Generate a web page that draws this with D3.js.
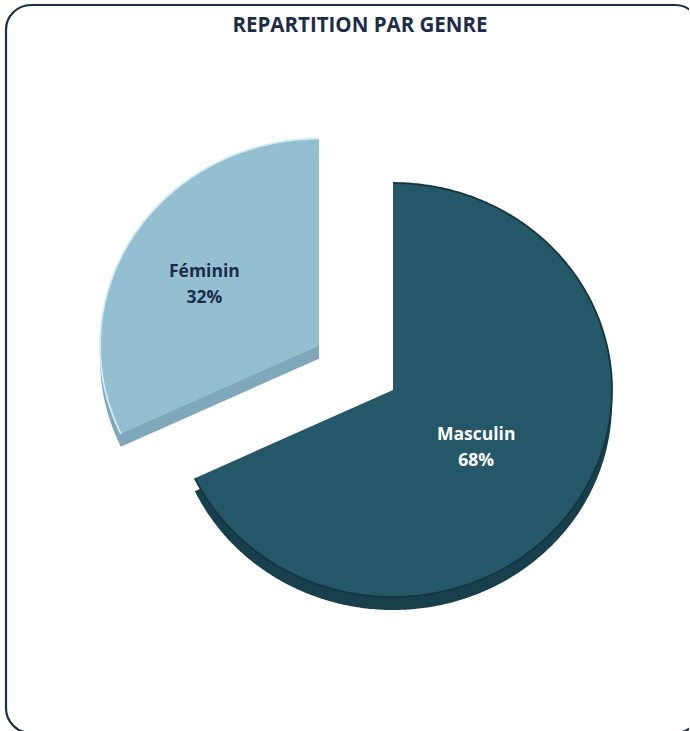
<!DOCTYPE html>
<html>
<head>
<meta charset="utf-8">
<script src="https://cdn.jsdelivr.net/npm/d3@7"></script>
<style>
  body { margin: 0; background: #fff; overflow: hidden; }
  svg { display: block; overflow: hidden; }
  text { font-family: "Open Sans", sans-serif; font-weight: bold; }
</style>
</head>
<body>
<div id="chart"></div>
<script>
// data
var categories = ["Masculin", "Féminin"];
var values = [68, 32];
var valueLabels = ["68%", "32%"];
var title = "REPARTITION PAR GENRE";

// layout
var width = 690, height = 731;
var cx = 393, cy = 390, rx = 219, ry = 207, depth = 13;
var explode = { "Masculin": 0, "Féminin": 0.4 };
var labelAt = { "Masculin": 0.45, "Féminin": 0.62 };
var colors = {
  "Masculin": { top: "#245868", side: "#173f4c", edge: "#143440", text: "#ffffff" },
  "Féminin":  { top: "#93bfd1", side: "#7fa8ba", edge: "#d2edf7", text: "#1c2d4a" }
};

var svg = d3.select("#chart").append("svg")
    .attr("width", width)
    .attr("height", height);

svg.append("clipPath")
    .attr("id", "view")
  .append("rect")
    .attr("width", width - 1)
    .attr("height", height);

// frame (right and bottom sides run past the picture)
svg.append("rect")
    .attr("clip-path", "url(#view)")
    .attr("x", 6).attr("y", 5)
    .attr("width", 694).attr("height", 728)
    .attr("rx", 25)
    .attr("fill", "#fff")
    .attr("stroke", "#1b2d47")
    .attr("stroke-width", 2.2);

svg.append("text")
    .attr("x", 360).attr("y", 32)
    .attr("text-anchor", "middle")
    .attr("font-size", 20.5)
    .attr("fill", "#1c2d4a")
    .text(title);

var data = categories.map(function(c, i) {
  return { name: c, value: values[i], label: valueLabels[i] };
});
var pie = d3.pie().sort(null).value(function(d) { return d.value; });
var arcs = pie(data);

// flattened pie: angle -> screen offset
function proj(a, f) {
  return [rx * f * Math.sin(a), -ry * f * Math.cos(a)];
}

function arcPoints(d) {
  var n = Math.ceil((d.endAngle - d.startAngle) / 0.01);
  var a = d3.scaleLinear().domain([0, n]).range([d.startAngle, d.endAngle]);
  return d3.range(n + 1).map(function(i) { return proj(a(i), 1); });
}

var line = d3.line();

var slices = svg.selectAll(".slice")
    .data(arcs)
  .enter().append("g")
    .attr("class", "slice")
    .attr("transform", function(d) {
      var off = proj((d.startAngle + d.endAngle) / 2, explode[d.data.name]);
      return "translate(" + (cx + off[0]) + "," + (cy + off[1]) + ")";
    });

// side (thickness)
slices.append("path")
    .attr("transform", "translate(0," + depth + ")")
    .attr("d", function(d) { return line([[0, 0]].concat(arcPoints(d))) + "Z"; })
    .attr("fill", function(d) { return colors[d.data.name].side; });

// top face
slices.append("path")
    .attr("d", function(d) { return line([[0, 0]].concat(arcPoints(d))) + "Z"; })
    .attr("fill", function(d) { return colors[d.data.name].top; });

// rim line on the outer arc
slices.append("path")
    .attr("d", function(d) { return line(arcPoints(d)); })
    .attr("fill", "none")
    .attr("stroke", function(d) { return colors[d.data.name].edge; })
    .attr("stroke-width", 1.8);

// labels
var labels = slices.append("text")
    .attr("text-anchor", "middle")
    .attr("font-size", 17.5)
    .attr("fill", function(d) { return colors[d.data.name].text; })
    .attr("transform", function(d) {
      var p = proj((d.startAngle + d.endAngle) / 2, labelAt[d.data.name]);
      return "translate(" + p[0] + "," + p[1] + ")";
    });

labels.append("tspan").attr("x", 0).attr("y", 0).text(function(d) { return d.data.name; });
labels.append("tspan").attr("x", 0).attr("y", 26).text(function(d) { return d.data.label; });
</script>
</body>
</html>
